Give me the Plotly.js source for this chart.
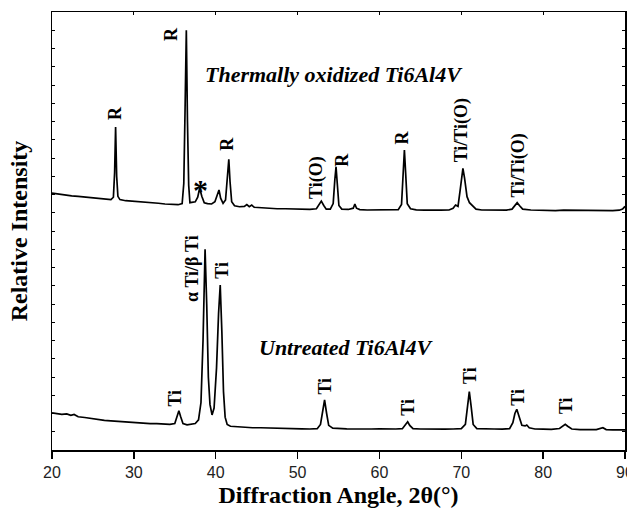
<!DOCTYPE html>
<html>
<head>
<meta charset="utf-8">
<script src="https://cdn.plot.ly/plotly-3.0.1.min.js"></script>
<style>html,body{margin:0;padding:0;background:#fff;}#chart{width:627px;height:512px;}</style>
</head>
<body>
<div id="chart"></div>
<script>
// ---- Data (2θ in degrees, relative intensity in arbitrary units) ----
const oxidizedAngle = [20.0,20.8,21.6,22.4,23.2,24.0,24.8,25.6,26.4,27.2,27.5,27.65,27.77,27.9,28.05,28.3,29.0,29.8,30.6,31.4,32.2,33.0,33.8,34.6,35.4,35.9,36.1,36.25,36.41,36.55,36.7,36.85,37.1,37.5,37.8,38.04,38.3,38.6,39.0,39.5,39.9,40.2,40.4,40.6,40.9,41.2,41.4,41.6,41.75,41.95,42.3,42.9,43.5,43.8,44.1,44.4,44.7,45.5,46.5,47.5,48.5,49.5,50.5,51.5,52.3,52.6,52.9,53.2,53.5,54.0,54.35,54.55,54.7,54.85,55.05,55.4,56.2,56.8,57.0,57.2,57.6,58.5,59.5,60.5,61.5,62.3,62.7,62.9,63.05,63.2,63.4,63.8,64.5,65.5,66.5,67.5,68.5,69.0,69.3,69.6,69.85,70.05,70.2,70.4,70.7,71.0,71.3,71.8,72.5,73.5,74.5,75.5,76.2,76.5,76.83,77.1,77.5,78.5,79.5,80.5,81.5,82.5,83.5,84.5,85.5,86.5,87.5,88.5,89.3,89.7,90.0];
const oxidizedIntensity = [14.08,14.02,14.00,13.93,13.90,13.86,13.80,13.78,13.74,13.72,13.85,15.2,17.70,15.0,13.9,13.72,13.66,13.64,13.60,13.57,13.58,13.52,13.48,13.47,13.44,13.5,14.6,18.5,23.0,18.0,14.5,13.55,13.58,13.6,13.85,14.34,13.9,13.55,13.5,13.48,13.6,13.95,14.25,13.8,13.52,13.7,14.8,15.93,14.7,13.6,13.38,13.33,13.35,13.45,13.33,13.42,13.3,13.27,13.25,13.22,13.22,13.2,13.2,13.19,13.22,13.4,13.64,13.4,13.2,13.2,13.5,14.8,15.52,14.6,13.4,13.2,13.18,13.25,13.48,13.25,13.17,13.15,13.16,13.14,13.15,13.17,13.45,15.0,16.44,15.2,13.5,13.22,13.16,13.14,13.16,13.14,13.15,13.25,13.42,13.35,14.2,15.1,15.43,14.9,13.88,13.55,13.42,13.2,13.15,13.14,13.16,13.14,13.2,13.4,13.55,13.4,13.2,13.15,13.13,13.15,13.12,13.14,13.13,13.12,13.14,13.12,13.13,13.12,13.14,13.2,13.35];

const untreatedAngle = [20.0,20.6,21.2,21.8,22.3,22.7,23.2,24.0,24.8,25.6,26.4,27.2,28.0,28.8,29.6,30.4,31.2,32.0,32.8,33.6,34.4,35.0,35.3,35.5,35.7,36.0,36.5,37.0,37.5,37.9,38.2,38.45,38.7,38.9,39.1,39.3,39.55,39.8,40.1,40.35,40.55,40.75,40.95,41.15,41.4,41.8,42.5,43.5,44.5,45.5,46.5,47.5,48.5,49.5,50.5,51.5,52.4,52.8,53.05,53.3,53.55,53.8,54.3,55.0,56.0,57.0,58.0,59.0,60.0,61.0,62.0,62.8,63.2,63.45,63.7,64.1,65.0,66.0,67.0,68.0,69.0,70.0,70.5,70.75,70.98,71.2,71.45,71.9,73.0,74.0,75.0,75.9,76.3,76.55,76.78,77.05,77.4,77.8,78.0,78.3,79.0,80.0,81.0,82.0,82.4,82.7,83.0,83.5,84.5,85.5,86.5,87.3,87.7,88.5,89.5,90.0];
const untreatedIntensity = [2.03,1.98,1.95,1.98,1.9,1.95,1.82,1.78,1.72,1.68,1.62,1.6,1.57,1.55,1.52,1.52,1.48,1.45,1.45,1.42,1.4,1.45,1.85,2.15,1.85,1.45,1.38,1.4,1.45,1.65,2.6,6.0,11.0,8.0,4.0,2.5,1.92,2.3,4.5,7.5,9.04,6.5,3.2,1.8,1.4,1.3,1.27,1.25,1.22,1.22,1.2,1.18,1.18,1.17,1.16,1.15,1.17,1.4,2.1,2.74,2.0,1.35,1.2,1.17,1.16,1.15,1.17,1.15,1.16,1.14,1.15,1.17,1.4,1.55,1.35,1.17,1.15,1.14,1.15,1.14,1.15,1.17,1.4,2.5,3.2,2.4,1.4,1.17,1.14,1.15,1.14,1.17,1.5,2.0,2.23,1.8,1.35,1.32,1.37,1.22,1.15,1.14,1.13,1.18,1.3,1.41,1.3,1.15,1.12,1.11,1.12,1.22,1.12,1.1,1.1,1.1];

// Peak labels (text) and the series captions
const oxidizedLabels = ["R","R","*","R","Ti(O)","R","R","Ti/Ti(O)","Ti/Ti(O)"];
const untreatedLabels = ["Ti","α Ti/β Ti","Ti","Ti","Ti","Ti","Ti","Ti"];
const seriesCaptions = ["Thermally oxidized Ti6Al4V","Untreated Ti6Al4V"];
const xTickValues = [20,30,40,50,60,70,80,90];

// ---- Layout: label anchor positions (data coordinates) ----
const oxLabelPos = [[27.7,18.47],[34.6,22.77],[38.1,14.3],[41.34,16.77],[52.3,14.93],[55.4,15.89],[62.7,17.1],[70.05,17.5],[76.96,15.6]];
const unLabelPos = [[35.03,2.82],[37.19,9.95],[40.73,9.86],[53.35,3.53],[63.53,2.33],[71.06,4.11],[76.96,2.88],[82.87,2.44]];
const captionPos = [[54.45,20.55],[55.9,5.59]];

const serif = "Liberation Serif, Times New Roman, serif";
const annotations = [];
function peakLabel(text, pos) {
  const isStar = text === "*";
  annotations.push({
    x: pos[0], y: pos[1], xref: "x", yref: "y", text: text, showarrow: false,
    textangle: isStar ? 0 : -90, xanchor: "center", yanchor: "middle",
    font: {family: serif, size: isStar ? 30 : 18, color: "#000", weight: "bold"}
  });
}
oxidizedLabels.forEach((t, i) => peakLabel(t, oxLabelPos[i]));
untreatedLabels.forEach((t, i) => peakLabel(t, unLabelPos[i]));
seriesCaptions.forEach((t, i) => annotations.push({
  x: captionPos[i][0], y: captionPos[i][1], xref: "x", yref: "y", text: t, showarrow: false,
  xanchor: "center", yanchor: "middle",
  font: {family: serif, size: 22, color: "#000", style: "italic", weight: "bold"}
}));

const traces = [
  {x: oxidizedAngle, y: oxidizedIntensity, type: "scatter", mode: "lines",
   line: {color: "#000", width: 1.7}, hoverinfo: "skip"},
  {x: untreatedAngle, y: untreatedIntensity, type: "scatter", mode: "lines",
   line: {color: "#000", width: 1.7}, hoverinfo: "skip"},
  {x: [null], y: [null], xaxis: "x2", yaxis: "y", type: "scatter", mode: "lines", hoverinfo: "skip", showlegend: false}
];

const layout = {
  width: 627, height: 512,
  margin: {l: 52, r: 2, t: 12, b: 62, pad: 0},
  paper_bgcolor: "#fff", plot_bgcolor: "#fff",
  showlegend: false,
  xaxis: {
    range: [20, 90], tickvals: xTickValues, ticks: "outside", ticklen: 7, tickwidth: 1.5, tickcolor: "#000",
    showline: true, linecolor: "#000", linewidth: 1.5, mirror: true,
    showgrid: false, zeroline: false, ticklabeloverflow: "allow",
    tickfont: {family: "Liberation Sans, Arial, sans-serif", size: 16, color: "#222"},
    title: {text: "Diffraction Angle, 2θ(°)", standoff: 6,
            font: {family: serif, size: 24, color: "#000", weight: "bold"}}
  },
  xaxis2: {
    overlaying: "x", side: "top", range: [20, 90], tickvals: xTickValues,
    ticks: "inside", ticklen: 3, tickwidth: 1, tickcolor: "#000",
    showticklabels: false, showgrid: false, zeroline: false, showline: false
  },
  yaxis: {
    range: [0, 24], dtick: 1, tick0: 0, ticks: "inside", ticklen: 3, tickwidth: 1, tickcolor: "#000",
    showticklabels: false, showline: true, linecolor: "#000", linewidth: 1.5, mirror: "ticks",
    showgrid: false, zeroline: false,
    title: {text: "Relative Intensity", standoff: 16,
            font: {family: serif, size: 24, color: "#000", weight: "bold"}}
  },
  annotations: annotations
};

Plotly.newPlot("chart", traces, layout, {displayModeBar: false, staticPlot: true});
</script>
</body>
</html>
